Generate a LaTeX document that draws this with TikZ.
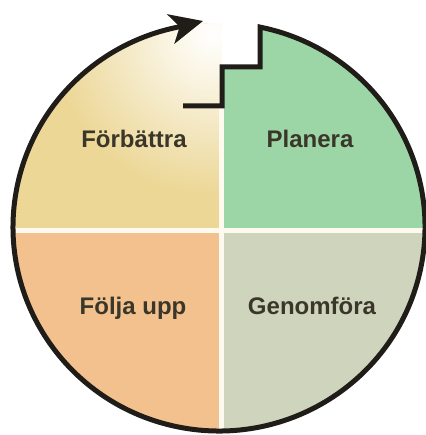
\documentclass[tikz,border=0pt]{standalone}
\usepackage{fontspec}
\setmainfont{Liberation Sans}
\usetikzlibrary{arrows.meta}
\definecolor{gul}{RGB}{236,215,150}
\definecolor{gron}{RGB}{157,214,166}
\definecolor{apelsin}{RGB}{242,193,142}
\definecolor{gra}{RGB}{207,212,189}
\definecolor{kant}{RGB}{32,29,25}
\definecolor{textfarg}{RGB}{58,55,42}
\definecolor{ljus}{RGB}{255,250,240}
\tikzset{
    %Define outline style
    ring/.style={
           draw=kant,
           line width=5pt,
           line join=miter,},
    % Define divider style
    delning/.style={
           draw=ljus,
           line width=4.5pt,}
}

\begin{document}
\begin{tikzpicture}[x=1pt,y=-1pt,
fasnode/.style={font=\bfseries\fontsize{24}{28}\selectfont, text=textfarg, inner sep=0pt, anchor=base},
]
\useasboundingbox (0,0) rectangle (425,435);
%Fields
\begin{scope}
\clip (219,227) ellipse[x radius=206, y radius=204];
\fill[gul] (0,0) rectangle (221.5,230.5);
\begin{scope}
\clip (0,0) rectangle (221.5,230.5);
\shade[inner color=white, outer color=gul] (212,35) circle[radius=160];
\end{scope}
\fill[gron] (221.5,230.5) -- (221.5,67) -- (260,67) -- (260,0) -- (425,0) -- (425,230.5) -- cycle;
\fill[apelsin] (0,230.5) rectangle (221.5,435);
\fill[gra] (221.5,230.5) rectangle (425,435);
\draw[delning] (0,230.5) -- (425,230.5);
\draw[delning] (221.5,106) -- (221.5,435);
\end{scope}

%Outline
\draw[ring, -{Stealth[length=33pt, width=30pt, inset=9pt]}]
    (183,106) -- (222,106) -- (222,67) -- (260,67) -- (260,27.1)
    arc[start angle=281.48, end angle=619.09, x radius=206, y radius=204]
    -- (203,21);

%Nodes
\node[fasnode](forbattra) at (134,148){Förbättra};
\node[fasnode](planera) at (310,148){Planera};
\node[fasnode](folja) at (133,314){Följa upp};
\node[fasnode](genomfora) at (312,314){Genomföra};

\end{tikzpicture}
\end{document}
